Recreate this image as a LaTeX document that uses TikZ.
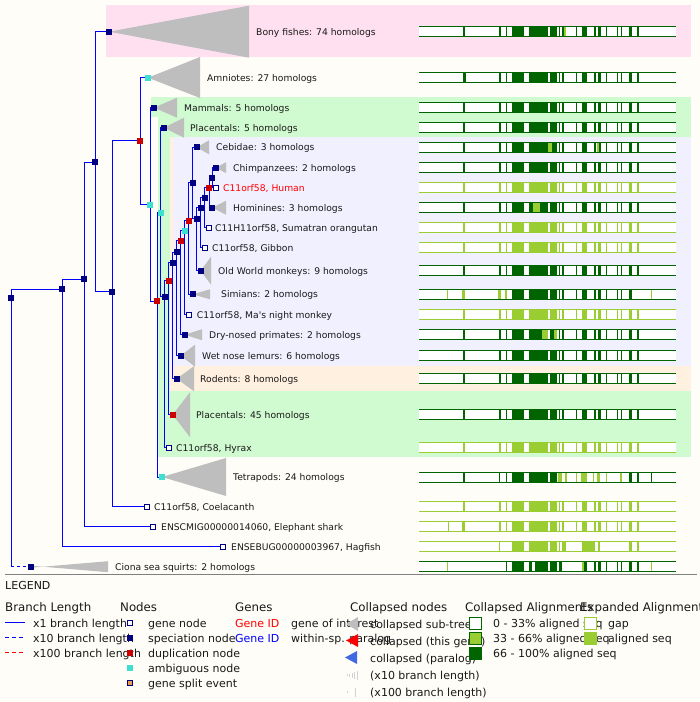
\documentclass[tikz,border=0pt]{standalone}
\usepackage{fontspec}
\newfontfamily\vf{DejaVu Sans}
\definecolor{bg}{RGB}{255,253,247}
\definecolor{bandpink}{RGB}{255,224,240}
\definecolor{bandgreen}{RGB}{208,250,208}
\definecolor{bandlav}{RGB}{240,240,255}
\definecolor{bandbeige}{RGB}{255,240,224}
\definecolor{treeblue}{RGB}{0,0,255}
\definecolor{navy}{RGB}{0,0,128}
\definecolor{dupred}{RGB}{204,0,0}
\definecolor{turq}{RGB}{64,224,208}
\definecolor{collgrey}{RGB}{190,190,190}
\definecolor{dkg}{RGB}{0,100,0}
\definecolor{ltg}{RGB}{154,205,50}
\definecolor{txt}{RGB}{25,25,25}
\definecolor{splitor}{RGB}{230,160,80}
\definecolor{paraBlue}{RGB}{65,105,225}
\newcommand\baseSegs{463/464.5,499/500.5,506/507,512/524,529/548,550/557,558.7/560.3,562/563.5,575.7/577.3,582/586.7,594.3/596.3,598.3/600.7,606/607,616.7/617.7,621/622.3,629/632,636.7/638.7}
\newcommand\segFill[3]{\foreach \sa/\sb in {#3} {\fill[#2] (\sa,#1-5.5) rectangle (\sb,#1+5.5);}}
\newcommand\barWhite[1]{\fill[white] (419,#1-5.5) rectangle (676,#1+5.5);}
\newcommand\barEdge[2]{\draw[#2,line width=1pt] (419,#1-5) -- (676,#1-5) (419,#1+5) -- (676,#1+5);}
\begin{document}
\begin{tikzpicture}[x=1pt,y=-1pt,
  lbl/.style={anchor=base west,inner sep=0pt,yshift=-3.3pt,font=\vf\fontsize{9.2}{11}\selectfont,text=txt},
  lgd/.style={anchor=base west,inner sep=0pt,yshift=-4pt,font=\vf\fontsize{11}{13}\selectfont,text=txt},
  hdr/.style={anchor=base west,inner sep=0pt,yshift=-4.4pt,font=\vf\fontsize{11.8}{14}\selectfont,text=txt},
  spec/.style={fill=navy,draw=none,minimum size=6pt,inner sep=0pt},
  dup/.style={fill=dupred,draw=none,minimum size=6pt,inner sep=0pt},
  amb/.style={fill=turq,draw=none,minimum size=6pt,inner sep=0pt},
  gene/.style={fill=white,draw=navy,line width=0.9pt,minimum size=5.5pt,inner sep=0pt},
  split/.style={fill=splitor,draw=navy,line width=0.9pt,minimum size=5.5pt,inner sep=0pt},
  edge/.style={draw=treeblue,line width=0.9pt},
  coll/.style={fill=collgrey}]
\useasboundingbox (0,0) rectangle (700,702);
\fill[bg] (0,0) rectangle (700,702);
% bands
\fill[bandpink] (106,5) rectangle (691,57);
\fill[bandgreen] (151,97) rectangle (691,117);
\fill[bandgreen] (158,117) rectangle (691,457);
\fill[bandbeige] (170,137) rectangle (691,391);
\fill[bandlav] (173,137) rectangle (691,366);
% coordinates
\coordinate (root) at (11,298);
\coordinate (nA) at (62,289);
\coordinate (nB) at (84,279);
\coordinate (nC) at (95,162);
\coordinate (nD) at (112,291.7);
\coordinate (nE) at (140,140.7);
\coordinate (nF) at (150,204.7);
\coordinate (nG) at (157,301);
\coordinate (nH) at (160.7,212.7);
\coordinate (nV) at (164.7,296.7);
\coordinate (nU) at (168.7,280.7);
\coordinate (nT) at (172.7,262.7);
\coordinate (nS) at (176.7,252);
\coordinate (nR) at (180.7,240.7);
\coordinate (nQ) at (184.7,230.7);
\coordinate (nP) at (188.7,220.7);
\coordinate (nO) at (192.7,182.7);
\coordinate (nN) at (196.7,218.7);
\coordinate (nM) at (200.7,207.7);
\coordinate (nL) at (204.7,197.7);
\coordinate (nI) at (209,187.7);
\coordinate (nK) at (212.3,177.7);
\coordinate (cBony) at (109,31.7);
\coordinate (cAmn) at (148,77.7);
\coordinate (cMam) at (154,107.7);
\coordinate (cPl5) at (164,127.7);
\coordinate (cCeb) at (196.7,147.3);
\coordinate (cChi) at (216,167.7);
\coordinate (gHum) at (216,187.7);
\coordinate (cHom) at (212.3,207.7);
\coordinate (gOra) at (208.7,227.7);
\coordinate (gGib) at (204.7,247.7);
\coordinate (cOWM) at (200.7,270.7);
\coordinate (cSim) at (192.7,294.3);
\coordinate (gMa) at (188.7,314.7);
\coordinate (cDry) at (184.7,334.7);
\coordinate (cWet) at (180.7,355.7);
\coordinate (cRod) at (176.7,378.7);
\coordinate (cPl45) at (172.7,414.7);
\coordinate (gHyr) at (168.7,447.7);
\coordinate (cTet) at (162,477);
\coordinate (gCoe) at (146.7,506.7);
\coordinate (gEle) at (152.7,526.7);
\coordinate (gHag) at (222.7,546.7);
\coordinate (cCio) at (31,566.7);
\coordinate (rc) at (root |- cCio);
% edges
\foreach \p/\c in {root/nA, nA/nB, nA/gHag, nB/nC, nB/gEle, nC/cBony, nC/nD, nD/nE, nD/gCoe, nE/cAmn, nE/nF, nF/cMam, nF/nG, nG/nH, nG/cTet, nH/cPl5, nH/nV, nV/nU, nV/gHyr, nU/nT, nU/cPl45, nT/nS, nT/cRod, nS/nR, nS/cWet, nR/nQ, nR/cDry, nQ/nP, nQ/gMa, nP/nO, nP/cSim, nO/cCeb, nO/nN, nN/nM, nN/cOWM, nM/nL, nM/gGib, nL/nI, nL/gOra, nI/nK, nI/cHom, nK/cChi, nK/gHum}
  \draw[edge] (\p) |- (\c);
\draw[edge] (root) -- (rc);
\draw[edge,dash pattern=on 3pt off 3pt] (rc) -- (cCio);
% collapsed triangles
\fill[coll] (cBony) -- (249,5.7) -- (249,57.7) -- cycle;
\fill[coll] (cAmn) -- (200,57) -- (200,98) -- cycle;
\fill[coll] (cMam) -- (177,97.7) -- (177,117.7) -- cycle;
\fill[coll] (cPl5) -- (184,117.7) -- (184,137.7) -- cycle;
\fill[coll] (cCeb) -- (209,140.3) -- (209,154.3) -- cycle;
\fill[coll] (cChi) -- (226,162.2) -- (226,173.2) -- cycle;
\fill[coll] (cHom) -- (226,200.7) -- (226,214.7) -- cycle;
\fill[coll] (cOWM) -- (211,256.7) -- (211,284.7) -- cycle;
\fill[coll] (cSim) -- (210,289.3) -- (210,299.3) -- cycle;
\fill[coll] (cDry) -- (202,329.2) -- (202,340.2) -- cycle;
\fill[coll] (cWet) -- (195,344.7) -- (195,366.7) -- cycle;
\fill[coll] (cRod) -- (194,366.2) -- (194,391.2) -- cycle;
\fill[coll] (cPl45) -- (190,392.2) -- (190,437.2) -- cycle;
\fill[coll] (cTet) -- (226,458) -- (226,496) -- cycle;
\fill[coll] ([yshift=-1pt]cCio) -- (108,561.2) -- (108,572.2) -- ([yshift=1pt]cCio) -- cycle;
% node squares
\foreach \n in {root,nA,nB,nC,nD,nV,nT,nS,nO,nN,nM,nL,nK,cBony,cMam,cPl5,cCeb,cChi,cHom,cOWM,cSim,cDry,cWet,cRod,cCio}
  \node[spec] (s\n) at (\n) {};
\foreach \n in {nE,nG,nU,nR,nP,nI,cPl45}
  \node[dup] (s\n) at (\n) {};
\foreach \n in {nF,nH,nQ,cAmn,cTet}
  \node[amb] (s\n) at (\n) {};
\foreach \n in {gHum,gOra,gGib,gMa,gHyr,gCoe,gEle,gHag}
  \node[gene] (s\n) at (\n) {};
% labels
\node[lbl] (tBony) at (256,31.7) {Bony fishes: 74 homologs};
\node[lbl] (tAmn) at (207,77.7) {Amniotes: 27 homologs};
\node[lbl] (tMam) at (184,107.7) {Mammals: 5 homologs};
\node[lbl] (tPl5) at (190,127.7) {Placentals: 5 homologs};
\node[lbl] (tCeb) at (216,147.3) {Cebidae: 3 homologs};
\node[lbl] (tChi) at (233,167.7) {Chimpanzees: 2 homologs};
\node[lbl,text=red] (tHum) at (223,187.7) {C11orf58, Human};
\node[lbl] (tHom) at (233,207.7) {Hominines: 3 homologs};
\node[lbl] (tOra) at (215,227.7) {C11H11orf58, Sumatran orangutan};
\node[lbl] (tGib) at (212,247.7) {C11orf58, Gibbon};
\node[lbl] (tOWM) at (218,270.7) {Old World monkeys: 9 homologs};
\node[lbl] (tSim) at (221,294.3) {Simians: 2 homologs};
\node[lbl] (tMa) at (196.7,314.7) {C11orf58, Ma\textquotesingle s night monkey};
\node[lbl] (tDry) at (209,334.7) {Dry-nosed primates: 2 homologs};
\node[lbl] (tWet) at (202,355.7) {Wet nose lemurs: 6 homologs};
\node[lbl] (tRod) at (200,378.7) {Rodents: 8 homologs};
\node[lbl] (tPl45) at (196,414.7) {Placentals: 45 homologs};
\node[lbl] (tHyr) at (176,447.7) {C11orf58, Hyrax};
\node[lbl] (tTet) at (233,477) {Tetrapods: 24 homologs};
\node[lbl] (tCoe) at (154,506.7) {C11orf58, Coelacanth};
\node[lbl] (tEle) at (161,526.7) {ENSCMIG00000014060, Elephant shark};
\node[lbl] (tHag) at (231,546.7) {ENSEBUG00000003967, Hagfish};
\node[lbl] (tCio) at (115,566.7) {Ciona sea squirts: 2 homologs};
% alignment bars
\foreach \y/\c in {31.7/dkg, 77.7/dkg, 107.7/dkg, 127.7/dkg, 147.3/dkg, 167.7/dkg, 187.7/ltg, 207.7/dkg, 227.7/ltg, 247.7/ltg, 270.7/dkg, 294.3/dkg, 314.7/ltg, 334.7/dkg, 355.7/dkg, 378.7/dkg, 414.7/dkg, 447.7/ltg, 506.7/ltg, 526.7/ltg}{
  \barWhite{\y}
  \foreach \sa/\sb in \baseSegs {\fill[\c] (\sa,\y-5.5) rectangle (\sb,\y+5.5);}
}
\segFill{31.7}{ltg}{564/566.3}
\segFill{77.7}{dkg}{463/465.7}
\segFill{147.3}{ltg}{548.3/552.3,596.7/599}
\segFill{207.7}{ltg}{533/540}
\segFill{294.3}{ltg}{447/448,462/464.7,498/500.5,505/507,651/652}
\segFill{294.3}{white}{636.7/638.7}
\segFill{334.7}{ltg}{542/548,554/556.7}
\segFill{526.7}{ltg}{448/449,462/465.3}
\barWhite{477}
\segFill{477}{dkg}{463/464.5,499.3/500.3,506/507,512/524,529/548,550/557,629/632,636.7/638.7,651/652}
\segFill{477}{ltg}{558/562,565.3/566.7,575.7/577.3,581.3/586.7,592.7/594.3,597.3/600,606.3/607,620/622.3}
\barWhite{546.7}
\segFill{546.7}{ltg}{499.3/500.3,512/524,529/548,550/557,558.7/560.3,562/566,582/595.3,597.7/600,629/632,636.7/638.7}
\barWhite{566.7}
\segFill{566.7}{ltg}{447/448,582/583.7,651/652}
\segFill{566.7}{dkg}{506/507,512/524,529/532,535/548,550/557,558.7/562,583.7/586.7,594.3/596.3,598.3/600.7,606/607,616.7/617.7,621/622.3,629/632,636.7/638.7}
\foreach \y/\c in {31.7/dkg, 77.7/dkg, 107.7/dkg, 127.7/dkg, 147.3/dkg, 167.7/dkg, 187.7/ltg, 207.7/dkg, 227.7/ltg, 247.7/ltg, 270.7/dkg, 294.3/dkg, 314.7/ltg, 334.7/dkg, 355.7/dkg, 378.7/dkg, 414.7/dkg, 447.7/ltg, 477/dkg, 506.7/ltg, 526.7/ltg, 546.7/ltg, 566.7/dkg}
  \barEdge{\y}{\c}
% legend
\draw[gray,line width=1.2pt] (5,574.3) -- (697,574.3);
\node[lgd] (lgTitle) at (5,585) {LEGEND};
\node[hdr] (hBL) at (5,607) {Branch Length};
\node[hdr] (hNd) at (120,607) {Nodes};
\node[hdr] (hGn) at (235,607) {Genes};
\node[hdr] (hCN) at (350,607) {Collapsed nodes};
\node[hdr] (hCA) at (465,607) {Collapsed Alignments};
\node[hdr] (hEA) at (580,607) {Expanded Alignments};
% branch lengths
\draw[edge] (5,622.7) -- (25,622.7);
\draw[edge,dash pattern=on 4pt off 3pt] (5,637.7) -- (25,637.7);
\draw[draw=red,line width=0.9pt,dash pattern=on 4pt off 3pt] (5,652.7) -- (25,652.7);
\node[lgd] (lx1) at (33,623.3) {x1 branch length};
\node[lgd] (lx10) at (33,638.3) {x10 branch length};
\node[lgd] (lx100) at (33,653.3) {x100 branch length};
% nodes
\node[gene] (lgGene) at (130,623) {};
\node[spec] (lgSpec) at (130,638) {};
\node[dup] (lgDup) at (130,653) {};
\node[amb] (lgAmb) at (130,668) {};
\node[split] (lgSplit) at (130,683) {};
\node[lgd] (lnGene) at (148,623.3) {gene node};
\node[lgd] (lnSpec) at (148,638.3) {speciation node};
\node[lgd] (lnDup) at (148,653.3) {duplication node};
\node[lgd] (lnAmb) at (148,668.3) {ambiguous node};
\node[lgd] (lnSplit) at (148,683.3) {gene split event};
% genes
\node[lgd,text=red] (lgId1) at (235,623.3) {Gene ID};
\node[lgd,text=treeblue] (lgId2) at (235,638.3) {Gene ID};
\node[lgd] (lgInt) at (291,623.3) {gene of interest};
\node[lgd] (lgPar) at (291,638.3) {within-sp. paralog};
% collapsed nodes
\node[lgd] (lcSub) at (370,624) {collapsed sub-tree};
\node[lgd] (lcThis) at (370,641) {collapsed (this gene)};
\node[lgd] (lcPar) at (370,658) {collapsed (paralog)};
\node[lgd] (lc10) at (370,675) {(x10 branch length)};
\node[lgd] (lc100) at (370,692) {(x100 branch length)};
\fill[collgrey] (346,624) -- (358,617) -- (358,631) -- cycle;
\fill[red] (346,640.5) -- (358,634) -- (358,647) -- cycle;
\fill[paraBlue] (345,657.5) -- (357,651) -- (357,664) -- cycle;
\foreach \tx/\th in {347/1.5,349.5/3,352/5,354.5/7,357/9}
  \draw[collgrey!70,line width=0.6pt] (\tx,675-\th/2) -- (\tx,675+\th/2);
\foreach \tx/\th in {347/1.5,355/9}
  \draw[collgrey!70,line width=0.6pt] (\tx,692-\th/2) -- (\tx,692+\th/2);
% collapsed alignments
\draw[dkg,line width=0.9pt,fill=white] (469.5,617.3) rectangle (481.5,629.3);
\draw[dkg,line width=0.9pt,fill=ltg] (469.5,632.3) rectangle (481.5,644.3);
\fill[dkg] (469,647) rectangle (482,659.7);
\node[lgd] (laA) at (493,623.3) {0 - 33\% aligned seq};
\node[lgd] (laB) at (493,638.3) {33 - 66\% aligned seq};
\node[lgd] (laC) at (493,653.3) {66 - 100\% aligned seq};
% expanded alignments
\draw[ltg,line width=0.9pt,fill=white] (584.5,617.3) rectangle (596.5,629.3);
\fill[ltg] (584,632) rectangle (597,644.7);
\node[lgd] (leGap) at (608,623.3) {gap};
\node[lgd] (leSeq) at (608,638.3) {aligned seq};
\end{tikzpicture}
\end{document}
